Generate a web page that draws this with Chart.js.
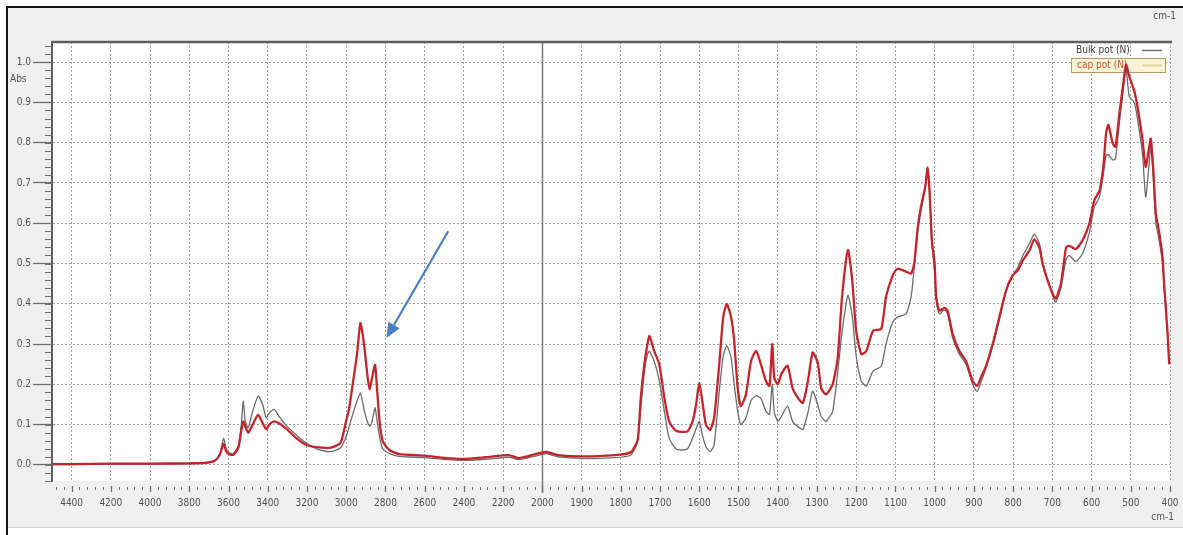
<!DOCTYPE html>
<html>
<head>
<meta charset="utf-8">
<title>Spectre IR</title>
<script src="https://cdn.jsdelivr.net/npm/chart.js@4.4.1/dist/chart.umd.min.js"></script>
<style>
  html, body { margin: 0; padding: 0; background: #fff; }
  #wrap { width: 1183px; height: 535px; }
</style>
</head>
<body>
<div id="wrap"><canvas id="spectre" width="1183" height="535"></canvas></div>
<script>
const waveNumbers = [
  4500, 4400, 4200, 4000, 3800, 3720, 3670, 3645, 3625, 3612, 3595, 3575, 3550, 3535, 3525, 3515,
  3500, 3477, 3449, 3426, 3408, 3392, 3367, 3345, 3310, 3256, 3205, 3150, 3080, 3030, 3000, 2985,
  2967, 2945, 2928, 2918, 2907, 2890, 2880, 2868, 2853, 2843, 2830, 2814, 2780, 2730, 2600, 2490,
  2400, 2290, 2170, 2120, 2035, 1990, 1960, 1900, 1816, 1775, 1762, 1756, 1749, 1740, 1732, 1727,
  1715, 1702, 1689, 1677, 1660, 1645, 1630, 1617, 1608, 1600, 1591, 1583, 1572, 1562, 1549, 1539,
  1530, 1519, 1511, 1502, 1494, 1481, 1468, 1455, 1443, 1430, 1421, 1414, 1409, 1400, 1391, 1375,
  1362, 1349, 1336, 1323, 1311, 1298, 1289, 1277, 1260, 1247, 1236, 1221, 1210, 1200, 1187, 1174,
  1157, 1136, 1124, 1107, 1095, 1073, 1060, 1052, 1043, 1035, 1024, 1018, 1013, 1007, 1000, 996,
  988, 975, 967, 954, 937, 920, 903, 892, 882, 869, 852, 835, 818, 801, 788, 775,
  758, 746, 733, 725, 712, 699, 691, 678, 665, 657, 640, 623, 606, 593, 580, 570,
  563, 557, 546, 539, 529, 519, 512, 504, 491, 483, 470, 462, 453, 449, 443, 436,
  428, 419, 415, 406, 402
];
const bulkPot = [
  0.001, 0.001, 0.002, 0.002, 0.003, 0.004, 0.010, 0.025, 0.066, 0.040, 0.030, 0.028, 0.048, 0.100, 0.158, 0.110,
  0.092, 0.133, 0.171, 0.150, 0.117, 0.129, 0.138, 0.122, 0.100, 0.075, 0.054, 0.040, 0.033, 0.042, 0.070, 0.095,
  0.125, 0.158, 0.179, 0.160, 0.133, 0.104, 0.096, 0.108, 0.142, 0.110, 0.070, 0.040, 0.028, 0.021, 0.018, 0.013,
  0.011, 0.014, 0.019, 0.013, 0.022, 0.028, 0.020, 0.016, 0.018, 0.024, 0.045, 0.065, 0.140, 0.230, 0.275, 0.282,
  0.258, 0.210, 0.133, 0.067, 0.040, 0.037, 0.040, 0.067, 0.090, 0.108, 0.070, 0.045, 0.033, 0.050, 0.183, 0.270,
  0.296, 0.267, 0.200, 0.133, 0.100, 0.117, 0.160, 0.172, 0.165, 0.133, 0.125, 0.200, 0.133, 0.108, 0.120, 0.146,
  0.108, 0.095, 0.088, 0.130, 0.183, 0.150, 0.120, 0.108, 0.133, 0.230, 0.330, 0.421, 0.370, 0.270, 0.208, 0.196,
  0.233, 0.245, 0.300, 0.354, 0.367, 0.375, 0.417, 0.490, 0.580, 0.630, 0.690, 0.740, 0.680, 0.550, 0.480, 0.410,
  0.375, 0.385, 0.375, 0.315, 0.275, 0.250, 0.200, 0.182, 0.205, 0.240, 0.295, 0.360, 0.430, 0.470, 0.490, 0.520,
  0.550, 0.573, 0.550, 0.505, 0.460, 0.420, 0.404, 0.440, 0.510, 0.520, 0.505, 0.525, 0.575, 0.640, 0.665, 0.720,
  0.770, 0.770, 0.757, 0.760, 0.850, 0.930, 0.985, 0.915, 0.900, 0.860, 0.770, 0.665, 0.750, 0.790, 0.720, 0.600,
  0.560, 0.500, 0.440, 0.320, 0.250
];
const capPot = [
  0.002, 0.002, 0.003, 0.003, 0.004, 0.005, 0.010, 0.025, 0.052, 0.034, 0.026, 0.025, 0.042, 0.085, 0.108, 0.096,
  0.080, 0.100, 0.124, 0.104, 0.088, 0.100, 0.108, 0.104, 0.092, 0.067, 0.050, 0.044, 0.043, 0.054, 0.110, 0.140,
  0.200, 0.275, 0.352, 0.330, 0.290, 0.215, 0.188, 0.217, 0.248, 0.190, 0.108, 0.059, 0.037, 0.027, 0.023, 0.017,
  0.015, 0.019, 0.024, 0.017, 0.027, 0.032, 0.024, 0.021, 0.024, 0.031, 0.050, 0.068, 0.167, 0.250, 0.300, 0.320,
  0.283, 0.250, 0.167, 0.108, 0.085, 0.082, 0.083, 0.108, 0.150, 0.204, 0.150, 0.100, 0.087, 0.117, 0.250, 0.367,
  0.400, 0.367, 0.308, 0.190, 0.146, 0.175, 0.258, 0.283, 0.250, 0.208, 0.196, 0.300, 0.217, 0.200, 0.225, 0.246,
  0.190, 0.167, 0.154, 0.208, 0.279, 0.254, 0.190, 0.175, 0.200, 0.267, 0.417, 0.533, 0.458, 0.333, 0.275, 0.283,
  0.333, 0.338, 0.417, 0.470, 0.487, 0.480, 0.475, 0.500, 0.590, 0.640, 0.690, 0.736, 0.680, 0.557, 0.500, 0.417,
  0.383, 0.390, 0.383, 0.325, 0.283, 0.258, 0.208, 0.196, 0.217, 0.246, 0.300, 0.367, 0.433, 0.471, 0.483, 0.508,
  0.533, 0.560, 0.540, 0.500, 0.458, 0.425, 0.413, 0.450, 0.540, 0.544, 0.536, 0.557, 0.598, 0.657, 0.680, 0.740,
  0.823, 0.844, 0.798, 0.790, 0.873, 0.948, 0.994, 0.965, 0.928, 0.890, 0.807, 0.740, 0.790, 0.810, 0.740, 0.623,
  0.580, 0.515, 0.450, 0.325, 0.250
];
const seriesNames = ["Bulk pot (N)", "cap pot (N)"];
const xMajorTicks = [4400, 4200, 4000, 3800, 3600, 3400, 3200, 3000, 2800, 2600, 2400, 2200, 2000,
  1900, 1800, 1700, 1600, 1500, 1400, 1300, 1200, 1100, 1000, 900, 800, 700, 600, 500, 400];
const yMajorTicks = [0.0, 0.1, 0.2, 0.3, 0.4, 0.5, 0.6, 0.7, 0.8, 0.9, 1.0];
const arrowFrom = [2480, 0.58];
const arrowTo = [2795, 0.315];

// axe x coupé à 2000 cm-1 : la partie droite est deux fois plus étirée
const X_START = 4500, X_BREAK = 2000, X_END = 400, X_STRETCH = 2;
const Y_MIN = -0.04, Y_MAX = 1.05;
const FONT = '"DejaVu Sans Condensed", "Liberation Sans Narrow", "DejaVu Sans", sans-serif';

class SplitWaveScale extends Chart.Scale {
  static id = 'splitwave';
  static defaults = {};
  determineDataLimits() { this.min = X_END; this.max = X_START; }
  buildTicks() { return xMajorTicks.map(v => ({ value: v })); }
  getLabelForValue(v) { return String(v); }
  toUnits(v) {
    return v >= X_BREAK ? X_START - v : (X_START - X_BREAK) + (X_BREAK - v) * X_STRETCH;
  }
  getPixelForValue(v) {
    return this.left + this.toUnits(v) / this.toUnits(X_END) * this.width;
  }
  getValueForPixel(p) {
    const u = (p - this.left) / this.width * this.toUnits(X_END);
    const uBreak = X_START - X_BREAK;
    return u <= uBreak ? X_START - u : X_BREAK - (u - uBreak) / X_STRETCH;
  }
  getPixelForTick(i) { return this.getPixelForValue(this.ticks[i].value); }
}
Chart.register(SplitWaveScale);

function xMinorTicks() {
  const out = [];
  for (let v = 4480; v > X_BREAK; v -= 40) out.push(v);
  for (let v = 1980; v > X_END; v -= 20) out.push(v);
  return out;
}

const decorPlugin = {
  id: 'decor',
  beforeDraw(chart) {
    const { ctx, chartArea: a, width, height } = chart;
    ctx.save();
    ctx.fillStyle = '#ffffff';
    ctx.fillRect(0, 0, width, height);
    ctx.fillStyle = '#f0f0f0';
    ctx.fillRect(8, 8, width - 8, 519);
    ctx.fillStyle = '#d6d6d6';
    ctx.fillRect(8, 527, width - 8, 1);
    ctx.fillStyle = '#151515';
    ctx.fillRect(6, 6, 2, height - 6);
    ctx.fillRect(6, 6, width - 6, 2);
    ctx.fillStyle = '#ffffff';
    ctx.fillRect(a.left, a.top, a.right - a.left, a.bottom - a.top);
    ctx.restore();
  },
  beforeDatasetsDraw(chart) {
    const { ctx, chartArea: a } = chart;
    const xs = chart.scales.x, ys = chart.scales.y;
    ctx.save();
    // trait plein de la coupure à 2000
    const xb = Math.round(xs.getPixelForValue(X_BREAK)) + 0.5;
    ctx.strokeStyle = '#7a7a7a';
    ctx.lineWidth = 1.5;
    ctx.beginPath(); ctx.moveTo(xb, a.top); ctx.lineTo(xb, a.bottom + 12); ctx.stroke();
    // bord supérieur
    ctx.strokeStyle = '#5e5e5e';
    ctx.lineWidth = 2.5;
    ctx.beginPath(); ctx.moveTo(a.left, a.top); ctx.lineTo(a.right + 2, a.top); ctx.stroke();
    // petites graduations
    ctx.strokeStyle = '#6e6e6e';
    ctx.lineWidth = 1;
    for (let k = 0; k <= 54; k++) {
      const v = Y_MIN + k * 0.02;
      const y = Math.round(ys.getPixelForValue(v)) + 0.5;
      ctx.beginPath(); ctx.moveTo(a.left - 7, y); ctx.lineTo(a.left, y); ctx.stroke();
    }
    xMinorTicks().forEach(v => {
      const x = Math.round(xs.getPixelForValue(v)) + 0.5;
      ctx.beginPath(); ctx.moveTo(x, a.bottom + 6); ctx.lineTo(x, a.bottom + 9); ctx.stroke();
    });
    ctx.lineWidth = 1.3;
    xMajorTicks.forEach(v => {
      const x = Math.round(xs.getPixelForValue(v)) + 0.5;
      ctx.beginPath(); ctx.moveTo(x, a.bottom + 5); ctx.lineTo(x, a.bottom + 11); ctx.stroke();
    });
    // légende
    ctx.font = '10px ' + FONT;
    ctx.textBaseline = 'middle';
    ctx.fillStyle = '#3a3a3a';
    ctx.fillText(seriesNames[0], 1076, 50);
    ctx.strokeStyle = '#707070';
    ctx.lineWidth = 1.5;
    ctx.beginPath(); ctx.moveTo(1142, 50.5); ctx.lineTo(1162, 50.5); ctx.stroke();
    ctx.fillStyle = '#fbf4d6';
    ctx.fillRect(1071.5, 58.5, 94, 14);
    ctx.strokeStyle = '#b79a5c';
    ctx.lineWidth = 1;
    ctx.strokeRect(1071.5, 58.5, 94, 14);
    ctx.fillStyle = '#c4562e';
    ctx.fillText(seriesNames[1], 1077, 65.5);
    ctx.strokeStyle = '#e2d39c';
    ctx.lineWidth = 2;
    ctx.beginPath(); ctx.moveTo(1142, 65.5); ctx.lineTo(1162, 65.5); ctx.stroke();
    ctx.restore();
  },
  afterDraw(chart) {
    const { ctx } = chart;
    const xs = chart.scales.x, ys = chart.scales.y;
    ctx.save();
    ctx.font = '10px ' + FONT;
    ctx.fillStyle = '#505050';
    ctx.textBaseline = 'middle';
    ctx.textAlign = 'left';
    ctx.fillText('Abs', 10, 79);
    ctx.textAlign = 'right';
    ctx.fillText('cm-1', 1176, 16);
    ctx.fillText('cm-1', 1174, 517);
    // flèche bleue
    const x1 = xs.getPixelForValue(arrowFrom[0]), y1 = ys.getPixelForValue(arrowFrom[1]);
    const x2 = xs.getPixelForValue(arrowTo[0]), y2 = ys.getPixelForValue(arrowTo[1]);
    const ang = Math.atan2(y2 - y1, x2 - x1);
    const head = 15, half = 6.5;
    const bx = x2 - head * Math.cos(ang), by = y2 - head * Math.sin(ang);
    ctx.strokeStyle = '#4a7fc0';
    ctx.fillStyle = '#4a7fc0';
    ctx.lineWidth = 2.2;
    ctx.beginPath(); ctx.moveTo(x1, y1); ctx.lineTo(bx, by); ctx.stroke();
    ctx.beginPath();
    ctx.moveTo(x2, y2);
    ctx.lineTo(bx + half * Math.sin(ang), by - half * Math.cos(ang));
    ctx.lineTo(bx - half * Math.sin(ang), by + half * Math.cos(ang));
    ctx.closePath();
    ctx.fill();
    ctx.restore();
  }
};

const ctx = document.getElementById("spectre").getContext("2d");
new Chart(ctx, {
  type: 'line',
  data: {
    datasets: [
      {
        label: seriesNames[0],
        data: waveNumbers.map((w, i) => ({ x: w, y: bulkPot[i] })),
        borderColor: '#6c6c6c',
        borderWidth: 1.3,
        pointRadius: 0,
        tension: 0.2,
        order: 1
      },
      {
        label: seriesNames[1],
        data: waveNumbers.map((w, i) => ({ x: w, y: capPot[i] })),
        borderColor: '#c4242b',
        borderWidth: 2.3,
        pointRadius: 0,
        tension: 0.2,
        order: 0
      }
    ]
  },
  options: {
    responsive: false,
    animation: false,
    events: [],
    layout: { padding: { top: 42, right: 13, left: 0, bottom: 0 } },
    plugins: {
      legend: { display: false },
      tooltip: { enabled: false }
    },
    scales: {
      x: {
        type: 'splitwave',
        position: 'bottom',
        afterFit: s => { s.height = 54; s.paddingLeft = 0; s.paddingRight = 0; },
        grid: { color: '#a0a0a0', lineWidth: 1, drawTicks: false },
        border: { display: false, dash: [2, 2] },
        ticks: {
          autoSkip: false, maxRotation: 0, padding: 16,
          color: '#505050', font: { family: FONT, size: 10 }
        }
      },
      y: {
        type: 'linear',
        min: Y_MIN,
        max: Y_MAX,
        afterFit: s => { s.width = 52; s.paddingTop = 0; s.paddingBottom = 0; },
        afterBuildTicks: s => { s.ticks = yMajorTicks.map(v => ({ value: v })); },
        grid: { color: '#a0a0a0', lineWidth: 1, tickLength: 19, tickColor: '#6e6e6e', tickWidth: 1.3 },
        border: { display: true, color: '#5e5e5e', width: 2, dash: [2, 2] },
        ticks: {
          padding: 2,
          color: '#505050',
          font: { family: FONT, size: 10 },
          callback: v => v.toFixed(1)
        }
      }
    }
  },
  plugins: [decorPlugin]
});
</script>
</body>
</html>
